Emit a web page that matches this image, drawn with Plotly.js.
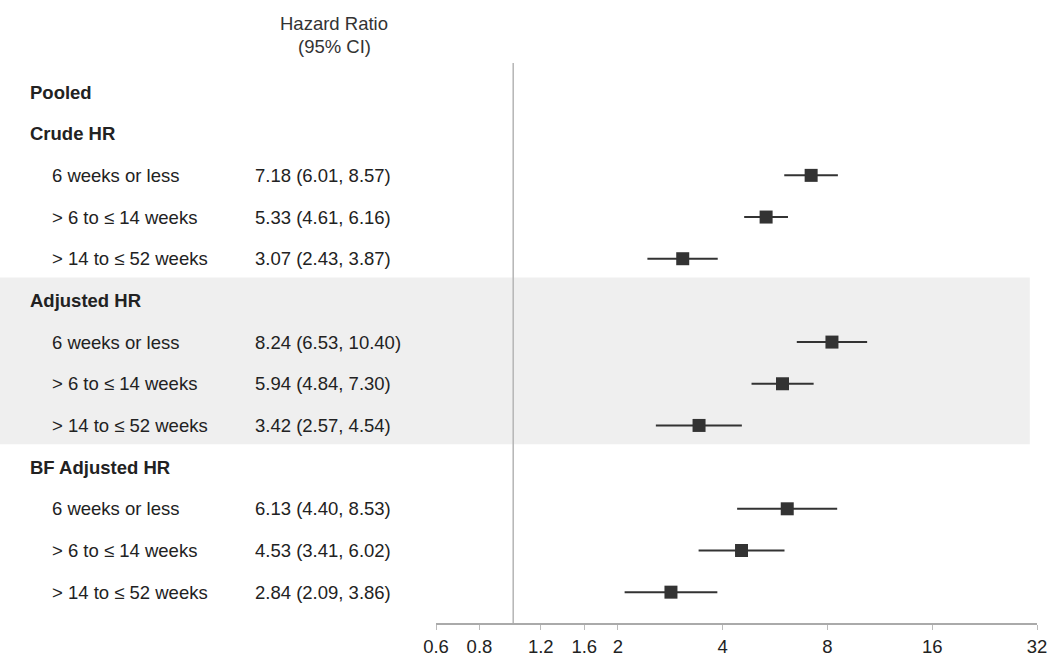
<!DOCTYPE html>
<html>
<head>
<meta charset="utf-8">
<script src="https://cdn.plot.ly/plotly-3.0.1.min.js"></script>
<style>
html,body{margin:0;padding:0;background:#fff;}
#chart{width:1051px;height:664px;}
</style>
</head>
<body>
<div id="chart"></div>
<script>
// ---- data ----
const groupLabels = ["Crude HR", "Adjusted HR", "BF Adjusted HR"];
const subgroupLabels = ["6 weeks or less", "> 6 to \u2264 14 weeks", "> 14 to \u2264 52 weeks"];
const hrCrude = [7.18, 5.33, 3.07];
const loCrude = [6.01, 4.61, 2.43];
const hiCrude = [8.57, 6.16, 3.87];
const hrAdjusted = [8.24, 5.94, 3.42];
const loAdjusted = [6.53, 4.84, 2.57];
const hiAdjusted = [10.40, 7.30, 4.54];
const hrBF = [6.13, 4.53, 2.84];
const loBF = [4.40, 3.41, 2.09];
const hiBF = [8.53, 6.02, 3.86];
const tickValues = [0.6, 0.8, 1.2, 1.6, 2, 4, 8, 16, 32];
const tickLabels = ["0.6", "0.8", "1.2", "1.6", "2", "4", "8", "16", "32"];

// ---- layout helpers ----
const FONT = "Liberation Sans, Arial, sans-serif";
const FS = 18.5;
const TXT = "#222";
const hrSets = [hrCrude, hrAdjusted, hrBF];
const loSets = [loCrude, loAdjusted, loBF];
const hiSets = [hiCrude, hiAdjusted, hiBF];

const xs = [], ys = [], ePlus = [], eMinus = [];
const annotations = [];
// row 0: "Pooled"
annotations.push({xref:"paper", yref:"y", x:-0.679, y:0, xanchor:"left", yanchor:"middle",
  text:"<b>Pooled</b>", showarrow:false, font:{family:FONT, size:FS, color:TXT}});
let row = 1;
for (let g = 0; g < groupLabels.length; g++) {
  annotations.push({xref:"paper", yref:"y", x:-0.679, y:row, xanchor:"left", yanchor:"middle",
    text:"<b>" + groupLabels[g] + "</b>", showarrow:false, font:{family:FONT, size:FS, color:TXT}});
  row++;
  for (let s = 0; s < subgroupLabels.length; s++) {
    const hr = hrSets[g][s], lo = loSets[g][s], hi = hiSets[g][s];
    xs.push(hr); ys.push(row);
    ePlus.push(hi - hr); eMinus.push(hr - lo);
    annotations.push({xref:"paper", yref:"y", x:-0.6423, y:row, xanchor:"left", yanchor:"middle",
      text:subgroupLabels[s], showarrow:false, font:{family:FONT, size:FS, color:TXT}});
    annotations.push({xref:"paper", yref:"y", x:-0.3045, y:row, xanchor:"left", yanchor:"middle",
      text:hr.toFixed(2) + " (" + lo.toFixed(2) + ", " + hi.toFixed(2) + ")",
      showarrow:false, font:{family:FONT, size:FS, color:TXT}});
    row++;
  }
}
// header
annotations.push({xref:"paper", yref:"paper", x:-0.1697, y:1.0712, xanchor:"center", yanchor:"middle",
  text:"Hazard Ratio", showarrow:false, font:{family:FONT, size:FS, color:"#333"}});
annotations.push({xref:"paper", yref:"paper", x:-0.1697, y:1.0302, xanchor:"center", yanchor:"middle",
  text:"(95% CI)", showarrow:false, font:{family:FONT, size:FS, color:"#333"}});

const trace = {
  type:"scatter", mode:"markers", x:xs, y:ys,
  marker:{symbol:"square", size:13, color:"#333"},
  error_x:{type:"data", symmetric:false, array:ePlus, arrayminus:eMinus,
           thickness:2, width:0, color:"#333"},
  hoverinfo:"x", showlegend:false, cliponaxis:false
};

const layout = {
  width:1051, height:664,
  margin:{l:436, r:14, t:63, b:41},
  paper_bgcolor:"#fff", plot_bgcolor:"rgba(0,0,0,0)",
  font:{family:FONT, size:FS, color:TXT},
  showlegend:false,
  xaxis:{type:"log", range:[Math.log10(0.6), Math.log10(32)],
    tickvals:tickValues, ticktext:tickLabels, showgrid:false, zeroline:false,
    showline:true, linecolor:"#aaa", linewidth:1.5, ticks:"outside", ticklen:5, tickcolor:"#bbb",
    tickfont:{family:FONT, size:FS, color:TXT}, ticklabelstandoff:1,
    ticklabeloverflow:"allow", fixedrange:true},
  yaxis:{range:[12.74, -0.696], showgrid:false, zeroline:false, showline:false,
    showticklabels:false, ticks:"", fixedrange:true},
  shapes:[
    {type:"rect", xref:"paper", yref:"y", x0:-0.7255, x1:0.988, y0:4.45, y1:8.45,
     fillcolor:"#efefef", line:{width:0}, layer:"below"},
    {type:"line", xref:"x", yref:"paper", x0:1, x1:1, y0:0, y1:1,
     line:{color:"#b5b5b5", width:1.5}, layer:"below"}
  ],
  annotations:annotations
};

Plotly.newPlot("chart", [trace], layout, {displayModeBar:false, staticPlot:true});
</script>
</body>
</html>
